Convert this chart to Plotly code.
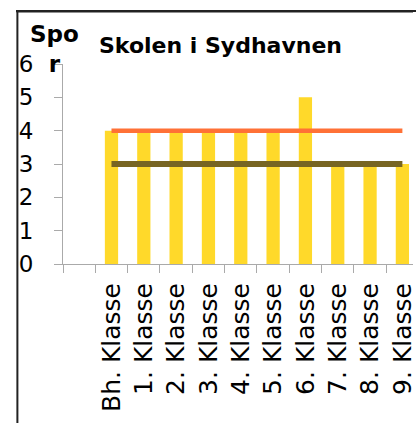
import plotly.graph_objects as go

categories = [" ", "Bh. Klasse", "1. Klasse", "2. Klasse", "3. Klasse", "4. Klasse",
              "5. Klasse", "6. Klasse", "7. Klasse", "8. Klasse", "9. Klasse"]
bar_values = [None, 4, 4, 4, 4, 4, 4, 5, 3, 3, 3]
line_high_values = [4, 4, 4, 4, 4, 4, 4, 4, 4, 4]
line_low_values = [3, 3, 3, 3, 3, 3, 3, 3, 3, 3]
y_ticks = [0, 1, 2, 3, 4, 5, 6]

W, H = 416, 423
L, T, B = 63, 64, 159
PW = W - L
PH = H - T - B
cat_px = 32.6

fig = go.Figure()
fig.add_trace(go.Bar(x=categories, y=bar_values, marker_color="#FFD92A",
                     marker_line_width=0, width=0.41, showlegend=False))
fig.add_trace(go.Scatter(x=categories[1:], y=line_high_values, mode="lines",
                         line=dict(color="#FF7136", width=4.5), showlegend=False))
fig.add_trace(go.Scatter(x=categories[1:], y=line_low_values, mode="lines",
                         line=dict(color="#786522", width=6), showlegend=False))

font = "DejaVu Sans"
fig.update_layout(
    width=W, height=H,
    margin=dict(l=L, r=0, t=T, b=B),
    paper_bgcolor="white", plot_bgcolor="white",
    font=dict(family=font, color="black"),
    xaxis=dict(type="category", categoryorder="array", categoryarray=categories,
               range=[-0.5, -0.5 + PW / cat_px], tickson="boundaries",
               ticks="outside", ticklen=8, tickcolor="#aaaaaa", tickwidth=1,
               showline=True, linecolor="#aaaaaa", linewidth=1,
               showgrid=False, zeroline=False, tickangle=-90,
               ticklabelstandoff=8,
               tickfont=dict(size=25, family=font, color="black")),
    yaxis=dict(range=[0, 6], tickvals=y_ticks, ticks="outside", ticklen=8,
               tickcolor="#aaaaaa", tickwidth=1, showline=True,
               linecolor="#aaaaaa", linewidth=1, showgrid=False, zeroline=False,
               ticklabelstandoff=16,
               tickfont=dict(size=23, family=font, color="black")),
    bargap=0.6,
)

def px_x(x):
    return (x - L) / PW

def px_y(y):
    return (H - B - y) / PH

frame_line = dict(color="#222222", width=2)
fig.add_shape(type="line", xref="paper", yref="paper",
              x0=px_x(17), x1=px_x(17), y0=px_y(440), y1=px_y(11), line=frame_line)
fig.add_shape(type="line", xref="paper", yref="paper",
              x0=px_x(16), x1=px_x(416), y0=px_y(11.5), y1=px_y(11.5), line=frame_line)

fig.add_annotation(xref="paper", yref="paper", x=px_x(222), y=px_y(46),
                   text="<b>Skolen i Sydhavnen</b>", showarrow=False,
                   font=dict(size=22, family=font, color="black"),
                   xanchor="center", yanchor="middle")
fig.add_annotation(xref="paper", yref="paper", x=px_x(54), y=px_y(49),
                   text="<b>Spo<br>r</b>", showarrow=False, align="center",
                   font=dict(size=23, family=font, color="black"),
                   xanchor="center", yanchor="middle")

post = (
    "document.body.style.margin='0';"
    "document.body.style.overflow='hidden';"
    "var d=document.createElement('div');"
    "d.style.cssText='position:absolute;left:16px;top:10px;width:400px;height:2px;"
    "background:#222;pointer-events:none;z-index:1000;';"
    "document.body.appendChild(d);"
)
fig.write_html("out.html", config={"displayModeBar": False}, post_script=post)
